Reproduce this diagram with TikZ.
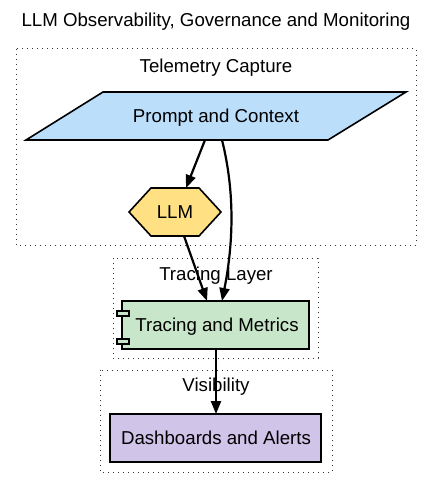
\documentclass[tikz,border=0pt]{standalone}
\usepackage{fontspec}
\setmainfont{Liberation Sans}
\usetikzlibrary{arrows.meta,shapes.geometric}
\definecolor{pblue}{HTML}{BBDEFB}
\definecolor{pyellow}{HTML}{FFE082}
\definecolor{pgreen}{HTML}{C8E6C9}
\definecolor{ppurple}{HTML}{D1C4E9}
\tikzset{
  cluster/.style={draw=black!80, dash pattern=on 1pt off 4pt, line width=1pt},
  clabel/.style={font=\fontsize{18.67}{21}\selectfont, inner sep=0pt, anchor=base, yshift=-6.7pt},
  box/.style={draw=black, line width=1.6pt},
  conn/.style={-{Triangle[length=13pt,width=10pt]}, line width=2.2pt}
}
\begin{document}
\begin{tikzpicture}[x=1pt,y=-1pt]
\useasboundingbox (0,0) rectangle (432,489);
\node[clabel] (title) at (216,20) {LLM Observability, Governance and Monitoring};
% clusters
\draw[cluster] (16,49) rectangle (416,245);
\node[clabel] (c1) at (216,66) {Telemetry Capture};
\draw[cluster] (113,258) rectangle (318,358);
\node[clabel] (c2) at (216,274) {Tracing Layer};
\draw[cluster] (100,370) rectangle (332,472);
\node[clabel] (c3) at (216,385) {Visibility};
% prompt parallelogram
\draw[box, fill=pblue] (103,92) -- (406,92) -- (328,140) -- (26,140) -- cycle;
\node[clabel] (prompt) at (216,116) {Prompt and Context};
\coordinate (pA) at (205,140);
\coordinate (pB) at (222,140);
% LLM hexagon
\draw[box, fill=pyellow] (129,212) -- (151,188) -- (199,188) -- (221,212) -- (199,236) -- (151,236) -- cycle;
\node[clabel] (llm) at (175,212) {LLM};
\coordinate (lT) at (186,188);
\coordinate (lB) at (184,236);
% Tracing and Metrics
\draw[box, fill=pgreen] (122,301) rectangle (309,349);
\draw[box, fill=pgreen, line width=1.2pt] (117,311) rectangle (129,316);
\draw[box, fill=pgreen, line width=1.2pt] (117,339) rectangle (129,344);
\node[clabel] (trace) at (217,325) {Tracing and Metrics};
\coordinate (tA) at (207,301);
\coordinate (tB) at (222,301);
\coordinate (tC) at (216,349);
% Dashboards
\draw[box, fill=ppurple] (110,414) rectangle (321,462);
\node[clabel] (dash) at (216,438) {Dashboards and Alerts};
\coordinate (dT) at (216,414);
% connectors
\draw[conn] (pA) -- (lT);
\draw[conn] (pB) .. controls (232,180) and (236,230) .. (tB);
\draw[conn] (lB) -- (tA);
\draw[conn] (tC) -- (dT);
\end{tikzpicture}
\end{document}
